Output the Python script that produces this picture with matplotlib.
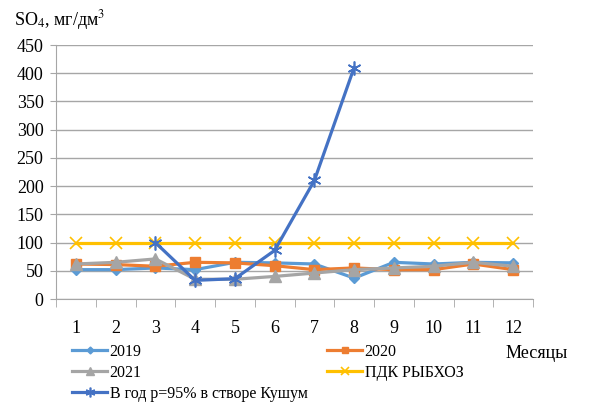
import numpy as np
import matplotlib.pyplot as plt

plt.rcParams['font.family'] = ['Liberation Serif', 'DejaVu Serif']

# Monthly sulphate concentrations, mg/dm3
months = list(range(1, 13))
s2019 = [52, 52, 55, 52, 65, 64, 62, 37, 65, 62, 65, 64]
s2020 = [62, 61, 58, 65, 64, 59, 52, 55, 52, 52, 62, 52]
s2021 = [62, 65, 71, 35, 35, 40, 46, 52, 55, 58, 65, 58]
pdk = [100] * 12
# p=95% year, only months 3..8 available
kushum_months = [3, 4, 5, 6, 7, 8]
kushum = [100, 33, 36, 86, 210, 410]

fig = plt.figure(figsize=(5.92, 4.04), dpi=100)
ax = fig.add_axes([56 / 592, 1 - 299 / 404, 477 / 592, 254 / 404])

l19, = ax.plot(months, s2019, color='#5B9BD5', lw=2.3, marker='D', ms=5, label='2019')
l20, = ax.plot(months, s2020, color='#ED7D31', lw=2.3, marker='s', ms=7, label='2020')
l21, = ax.plot(months, s2021, color='#A5A5A5', lw=2.3, marker='^', ms=8, label='2021')
lpdk, = ax.plot(months, pdk, color='#FFC000', lw=2.3, marker='x', ms=9, mew=1.2,
                label='ПДК РЫБХОЗ')
lk, = ax.plot(kushum_months, kushum, color='#4472C4', lw=2.3, marker=(6, 2, 0), ms=10,
              mew=1.2, label='В год р=95% в створе Кушум')

ax.set_xlim(0.5, 12.5)
ax.set_ylim(0, 450)
ax.set_yticks(np.arange(0, 451, 50))
ax.set_xticks(months)
ax.set_xticks(np.arange(0.5, 12.6, 1), minor=True)
ax.tick_params(axis='x', which='major', length=0, pad=15, labelsize=13)
ax.tick_params(axis='x', which='minor', length=6, color='#A6A6A6')
ax.tick_params(axis='y', length=4, color='#A6A6A6', labelsize=13, pad=5)
ax.grid(axis='y', color='#A6A6A6', lw=1)
ax.set_axisbelow(True)
for side in ['top', 'right']:
    ax.spines[side].set_visible(False)
for side in ['left', 'bottom']:
    ax.spines[side].set_color('#A6A6A6')

fig.text(14 / 592, 1 - 20 / 404, 'SO$_4$, мг/дм$^3$', fontsize=13, va='center',
         ha='left', math_fontfamily='stix')
fig.text(506 / 592, 1 - 353 / 404, 'Месяцы', fontsize=13, va='center', ha='left')

# legend laid out in two columns below the axes
leg_kw = dict(loc='upper left', frameon=False, fontsize=11.5, handlelength=2.2,
              handletextpad=0.15, labelspacing=0.3, borderpad=0, borderaxespad=0,
              markerscale=0.7)
col1 = [l19, l21, lk]
col2 = [l20, lpdk]
leg1 = fig.legend(handles=col1, labels=[h.get_label() for h in col1],
                  bbox_to_anchor=(72 / 592, 1 - 344 / 404), **leg_kw)
fig.legend(handles=col2, labels=[h.get_label() for h in col2],
           bbox_to_anchor=(327 / 592, 1 - 344 / 404), **leg_kw)

fig.savefig('out.png', dpi=100)
